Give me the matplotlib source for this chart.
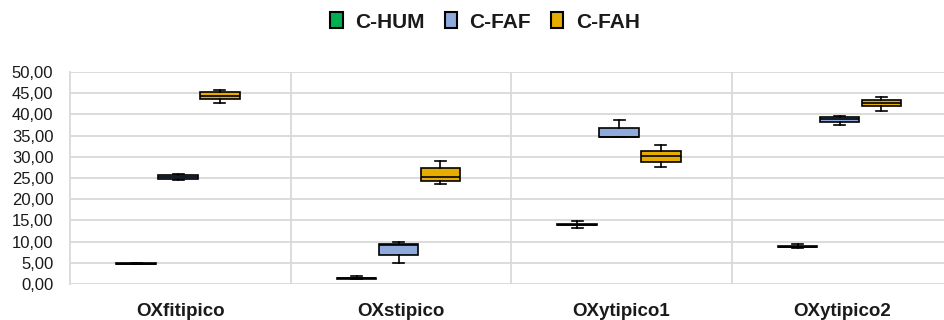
import matplotlib
matplotlib.use("Agg")
import matplotlib.pyplot as plt
from matplotlib.patches import Patch

plt.rcParams["font.family"] = ["Liberation Sans", "DejaVu Sans"]

categories = ["OXfitipico", "OXstipico", "OXytipico1", "OXytipico2"]
series = ["C-HUM", "C-FAF", "C-FAH"]
colors = ["#00B050", "#8EA9DB", "#E6AC00"]

# per series, per category: whisker low, q1, median, q3, whisker high
hum_lo = [4.60, 1.20, 13.2, 8.60]
hum_q1 = [4.65, 1.25, 13.8, 8.70]
hum_med = [4.75, 1.40, 14.0, 8.80]
hum_q3 = [4.85, 1.50, 14.2, 8.95]
hum_hi = [4.90, 1.90, 14.9, 9.40]

faf_lo = [24.6, 4.9, 34.6, 37.5]
faf_q1 = [24.8, 6.8, 34.6, 38.2]
faf_med = [25.3, 9.3, 34.6, 38.9]
faf_q3 = [25.8, 9.4, 36.8, 39.3]
faf_hi = [26.0, 10.0, 38.7, 39.7]

fah_lo = [42.8, 23.6, 27.7, 40.7]
fah_q1 = [43.6, 24.4, 28.8, 41.9]
fah_med = [44.4, 25.2, 30.1, 42.6]
fah_q3 = [45.4, 27.3, 31.4, 43.3]
fah_hi = [45.8, 29.0, 32.9, 44.1]

yticks = [0, 5, 10, 15, 20, 25, 30, 35, 40, 45, 50]

data = [
    (hum_lo, hum_q1, hum_med, hum_q3, hum_hi),
    (faf_lo, faf_q1, faf_med, faf_q3, faf_hi),
    (fah_lo, fah_q1, fah_med, fah_q3, fah_hi),
]
offsets = [-0.2, -0.01, 0.18]

fig = plt.figure(figsize=(9.45, 3.2), dpi=100)
ax = fig.add_axes([70 / 945, 36 / 320, 882 / 945, 212 / 320])

for (lo, q1, med, q3, hi), col, off in zip(data, colors, offsets):
    stats = [dict(whislo=lo[i], q1=q1[i], med=med[i], q3=q3[i], whishi=hi[i], fliers=[])
             for i in range(len(categories))]
    pos = [i + off for i in range(len(categories))]
    ax.bxp(stats, positions=pos, widths=0.18, patch_artist=True, showfliers=False,
           capwidths=0.05,
           boxprops=dict(facecolor=col, edgecolor="black", linewidth=1.2),
           medianprops=dict(color="black", linewidth=1.2),
           whiskerprops=dict(color="black", linewidth=1.2),
           capprops=dict(color="black", linewidth=1.2))

ax.set_xlim(-0.5, 3.5)
ax.set_ylim(0, 50)
ax.set_yticks(yticks)
ax.set_yticklabels([f"{v:.2f}".replace(".", ",") for v in yticks], fontsize=12, color="#1a1a1a")
ax.set_xticks(range(len(categories)))
ax.set_xticklabels(categories, fontsize=13.5, fontweight="bold", color="#1a1a1a")
ax.tick_params(axis="y", length=0, pad=12)
ax.tick_params(axis="x", length=0, pad=14)
ax.grid(axis="y", color="#D9D9D9", linewidth=1.3, zorder=0)
ax.set_axisbelow(True)
for x in [0.5, 1.5, 2.5]:
    ax.axvline(x, color="#D9D9D9", linewidth=1.3, zorder=0)
for s in ["top", "right", "bottom"]:
    ax.spines[s].set_visible(False)
ax.spines["left"].set_color("#D9D9D9")
ax.spines["left"].set_linewidth(1.3)

handles = [Patch(facecolor=c, edgecolor="black", linewidth=1.5, label=s) for s, c in zip(series, colors)]
fig.legend(handles=handles, loc="center", bbox_to_anchor=(485 / 945, 1 - 22 / 320), ncol=3,
           frameon=False, prop=dict(size=15, weight="bold"), handlelength=0.6,
           handleheight=0.8, handletextpad=0.6, columnspacing=0.95, labelcolor="#1a1a1a")

fig.savefig("out.png", dpi=100)
